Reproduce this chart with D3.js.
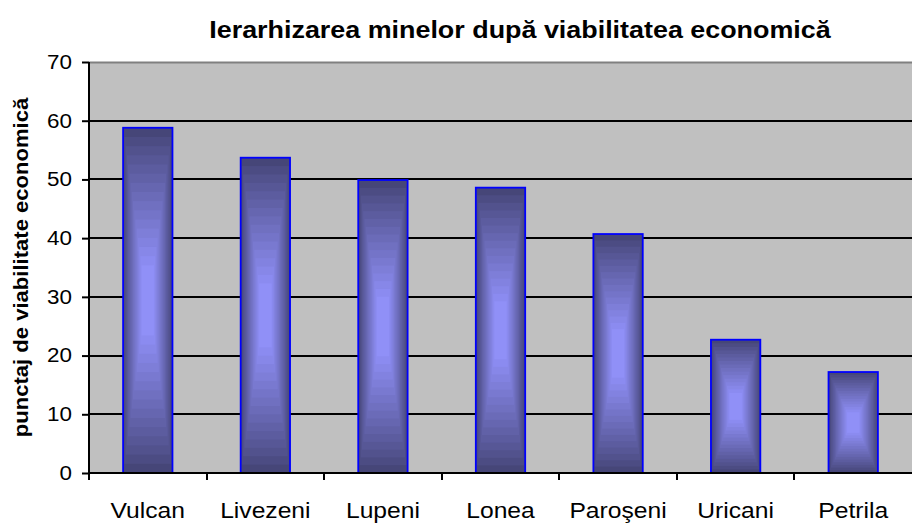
<!DOCTYPE html>
<html>
<head>
<meta charset="utf-8">
<script src="https://cdn.jsdelivr.net/npm/d3@7"></script>
<style>
body { margin: 0; background: #fff; }
text { font-family: "Liberation Sans", Arial, sans-serif; }
</style>
</head>
<body>
<div id="chart"></div>
<script>
var categories = ["Vulcan", "Livezeni", "Lupeni", "Lonea", "Paroşeni", "Uricani", "Petrila"];
var values = [58.8, 53.7, 49.9, 48.6, 40.7, 22.7, 17.2];
var yTicks = [0, 10, 20, 30, 40, 50, 60, 70];

var W = 912, H = 524;
var margin = {top: 62, right: 0, bottom: 51, left: 89},
  width = W - margin.left - margin.right,
  height = H - margin.top - margin.bottom;

var svg = d3.select("#chart").append("svg")
  .attr("width", W).attr("height", H);

var g = svg.append("g")
  .attr("transform", "translate(" + margin.left + "," + margin.top + ")");

var x = d3.scaleBand().domain(categories).range([0, width]).paddingInner(0.58).paddingOuter(0.29);
var y = d3.scaleLinear().domain([0, 70]).range([height, 0]);

// the source picture is stretched sideways, so widen the text a bit
function stretch(sel, f) {
  sel.each(function() {
    var len = this.getComputedTextLength();
    d3.select(this).attr("textLength", len * f).attr("lengthAdjust", "spacingAndGlyphs");
  });
}

// plot area
g.append("rect").attr("width", width).attr("height", height).attr("fill", "#c0c0c0");
g.append("line").attr("x1", 0).attr("x2", width).attr("y1", 0.5).attr("y2", 0.5)
  .attr("stroke", "#808080").attr("stroke-width", 2);

// grid lines
g.selectAll(".grid").data(yTicks.filter(function(d) { return d > 0 && d < 70; }))
  .enter().append("line")
  .attr("x1", 0).attr("x2", width)
  .attr("y1", function(d) { return Math.round(y(d)); })
  .attr("y2", function(d) { return Math.round(y(d)); })
  .attr("stroke", "#000").attr("stroke-width", 2);

// bars with a "from center" stepped gradient
var dark = d3.rgb(70, 70, 120), light = d3.rgb(148, 148, 255);
var steps = 16;
var bars = g.selectAll(".bar").data(values).enter().append("g");
bars.each(function(d, i) {
  var bx = x(categories[i]), bw = x.bandwidth();
  var by = y(d), bh = y(0) - y(d);
  var sel = d3.select(this);
  for (var s = 0; s < steps; s++) {
    var t = s / steps;
    sel.append("rect")
      .attr("x", bx + t * bw / 2 * 0.8)
      .attr("y", by + t * bh / 2 * 0.85)
      .attr("width", bw - t * bw * 0.8)
      .attr("height", bh - t * bh * 0.85)
      .attr("fill", d3.interpolateRgb(dark, light)(Math.pow(t, 0.9)));
  }
  sel.append("rect")
    .attr("x", bx).attr("y", by).attr("width", bw).attr("height", bh)
    .attr("fill", "none").attr("stroke", "#0000ff").attr("stroke-width", 1.8);
});

// y axis
var yAxis = d3.axisLeft(y).tickValues(yTicks).tickSize(7).tickPadding(10);
var ya = g.append("g").call(yAxis);
ya.select(".domain").remove();
ya.selectAll(".tick line").attr("stroke", "#000").attr("stroke-width", 2);
ya.selectAll(".tick text").attr("font-size", 20).attr("fill", "#000")
  .attr("font-family", "'Liberation Sans', Arial, sans-serif")
  .call(stretch, 1.12);
g.append("line").attr("x1", 0).attr("x2", 0).attr("y1", 0).attr("y2", height + 7)
  .attr("stroke", "#000").attr("stroke-width", 2);

// x axis
var xa = g.append("g").attr("transform", "translate(0," + height + ")");
xa.append("line").attr("x1", 0).attr("x2", width).attr("y1", 0).attr("y2", 0)
  .attr("stroke", "#000").attr("stroke-width", 2);
xa.selectAll(".xt").data(categories.slice(1)).enter().append("line")
  .attr("x1", function(d) { return Math.round(x(d) - x.step() * 0.29); })
  .attr("x2", function(d) { return Math.round(x(d) - x.step() * 0.29); })
  .attr("y1", 0).attr("y2", 7)
  .attr("stroke", "#000").attr("stroke-width", 2);
xa.selectAll(".xl").data(categories).enter().append("text")
  .attr("x", function(d) { return x(d) + x.bandwidth() / 2; })
  .attr("y", 45)
  .attr("text-anchor", "middle")
  .attr("font-size", 22)
  .text(function(d) { return d; })
  .call(stretch, 1.12);

// titles
svg.append("text").attr("x", 520).attr("y", 38).attr("text-anchor", "middle")
  .attr("font-size", 24).attr("font-weight", "bold")
  .text("Ierarhizarea minelor după viabilitatea economică")
  .call(stretch, 1.12);
svg.append("text")
  .attr("transform", "translate(28," + (margin.top + height / 2) + ") rotate(-90)")
  .attr("text-anchor", "middle").attr("font-size", 21).attr("font-weight", "bold")
  .text("punctaj de viabilitate economică")
  .call(stretch, 1.05);
</script>
</body>
</html>
